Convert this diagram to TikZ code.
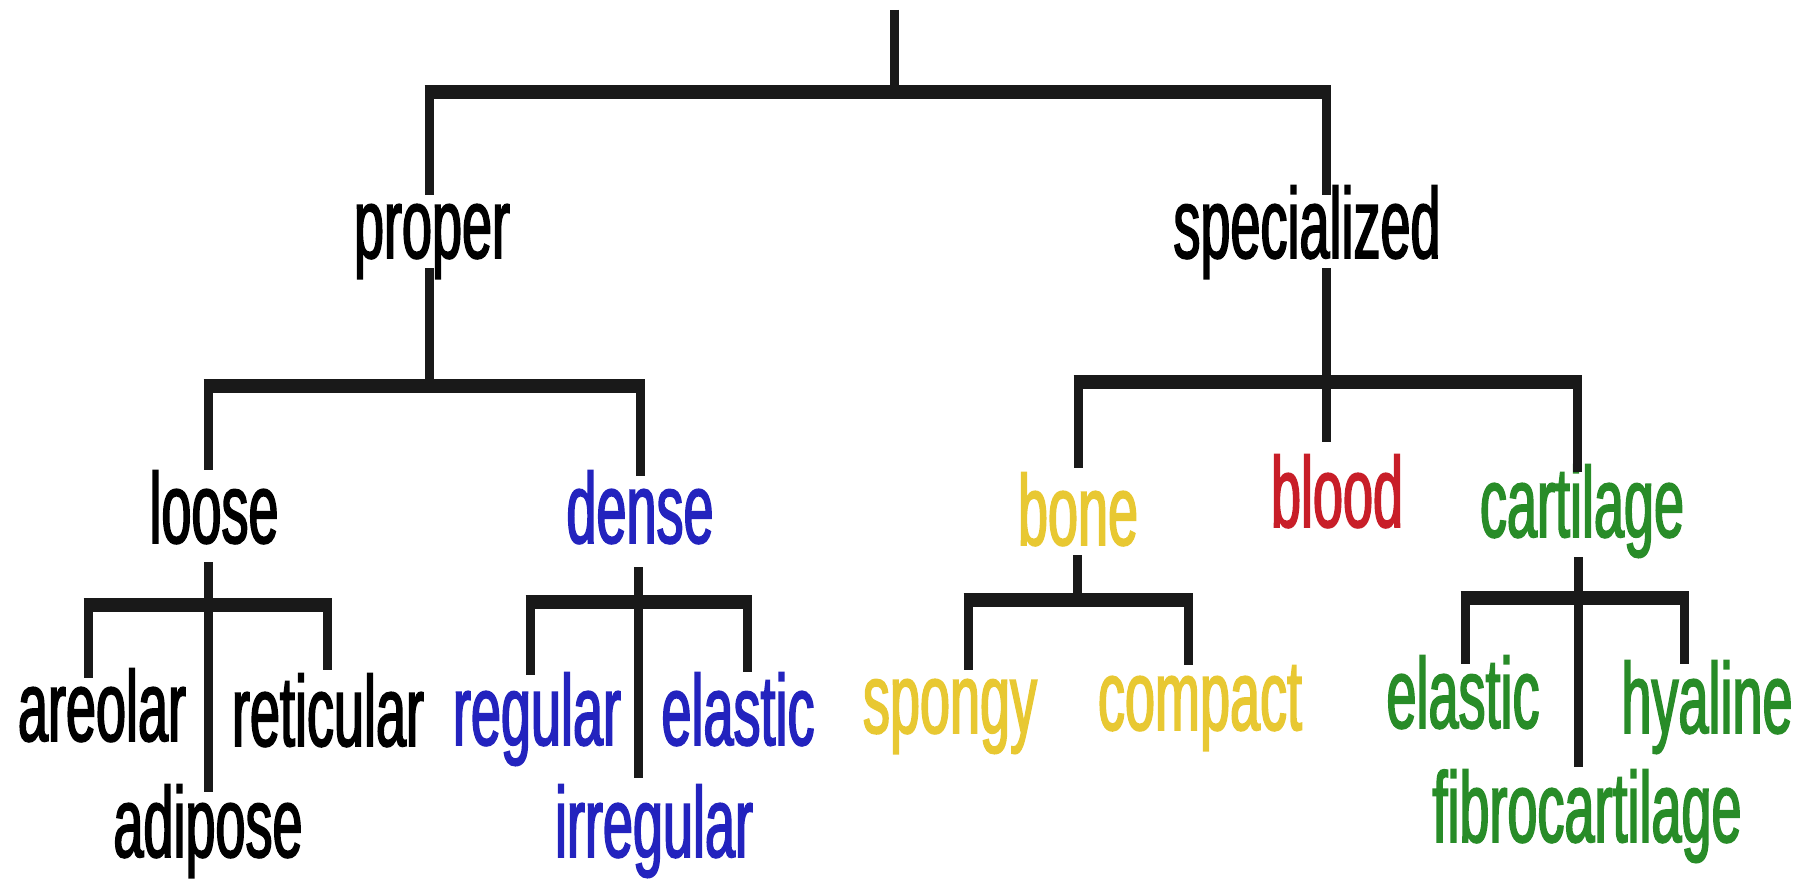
\documentclass[tikz,border=0pt]{standalone}
\usepackage{fontspec}
\setmainfont[FakeStretch=0.54,FakeBold=1.6]{Liberation Sans}
\definecolor{tblue}{RGB}{35,35,190}
\definecolor{tred}{RGB}{200,30,40}
\definecolor{tyellow}{RGB}{232,200,50}
\definecolor{tgreen}{RGB}{40,140,40}
\definecolor{tblack}{RGB}{25,25,25}
\begin{document}
\begin{tikzpicture}[x=1pt,y=-1pt,
  lbl/.style={inner sep=0pt, anchor=base, font=\fontsize{100}{110}\selectfont},
  hbar/.style={draw=tblack, line width=14pt},
  vline/.style={draw=tblack, line width=9pt}]
\useasboundingbox (0,0) rectangle (1808,880);
% level 1
\node[lbl] (proper) at (432,258) {proper};
\node[lbl] (spec) at (1307,258) {specialized};
% level 2
\node[lbl] (loose) at (214,543) {loose};
\node[lbl,text=tblue] (dense) at (640,543) {dense};
\node[lbl,text=tyellow] (bone) at (1078,545) {bone};
\node[lbl,text=tred] (blood) at (1337,527) {blood};
\node[lbl,text=tgreen] (cart) at (1582,537) {cartilage};
% level 3
\node[lbl] (areolar) at (102,741) {areolar};
\node[lbl] (retic) at (328,746) {reticular};
\node[lbl] (adipose) at (208,857) {adipose};
\node[lbl,text=tblue] (regular) at (537,745) {regular};
\node[lbl,text=tblue] (elastic) at (738,745) {elastic};
\node[lbl,text=tblue] (irregular) at (654,857) {irregular};
\node[lbl,text=tyellow] (spongy) at (950,733) {spongy};
\node[lbl,text=tyellow] (compact) at (1200,730) {compact};
\node[lbl,text=tgreen] (celastic) at (1463,728) {elastic};
\node[lbl,text=tgreen] (hyaline) at (1707,733) {hyaline};
\node[lbl,text=tgreen] (fibro) at (1587,842) {fibrocartilage};
% top
\coordinate (top) at (894,10);
\coordinate (tj) at (894,92);
\coordinate (tl) at (429,92);
\coordinate (tr) at (1326,92);
\draw[vline] (top) -- (tj);
\draw[hbar] ([xshift=-4.5pt]tl) -- ([xshift=4.5pt]tr);
\draw[vline] (tl) -- (tl |- 0,195);
\draw[vline] (tr) -- (tr |- 0,195);
% proper
\coordinate (pj) at (429,386);
\coordinate (pl) at (208,386);
\coordinate (pr) at (640,386);
\draw[vline] (pj |- 0,268) -- (pj);
\draw[hbar] ([xshift=-4.5pt]pl) -- ([xshift=4.5pt]pr);
\draw[vline] (pl) -- (pl |- 0,470);
\draw[vline] (pr) -- (pr |- 0,476);
% specialized
\coordinate (sj) at (1326,382);
\coordinate (sl) at (1078,382);
\coordinate (sr) at (1577,382);
\draw[vline] (sj |- 0,268) -- (sj);
\draw[hbar] ([xshift=-4.5pt]sl) -- ([xshift=4.5pt]sr);
\draw[vline] (sl) -- (sl |- 0,468);
\draw[vline] (sj) -- (sj |- 0,442);
\draw[vline] (sr) -- (sr |- 0,472);
% loose
\coordinate (lj) at (208,605);
\coordinate (ll) at (88,605);
\coordinate (lr) at (327,605);
\draw[hbar] ([xshift=-4.5pt]ll) -- ([xshift=4.5pt]lr);
\draw[vline] (lj |- 0,562) -- (lj |- 0,792);
\draw[vline] (ll) -- (ll |- 0,678);
\draw[vline] (lr) -- (lr |- 0,670);
% dense
\coordinate (dj) at (638,602);
\coordinate (dl) at (530,602);
\coordinate (dr) at (747,602);
\draw[hbar] ([xshift=-4.5pt]dl) -- ([xshift=4.5pt]dr);
\draw[vline] (dj |- 0,567) -- (dj |- 0,778);
\draw[vline] (dl) -- (dl |- 0,675);
\draw[vline] (dr) -- (dr |- 0,672);
% bone
\coordinate (bj) at (1077,600);
\coordinate (bl) at (968,600);
\coordinate (br) at (1188,600);
\draw[hbar] ([xshift=-4.5pt]bl) -- ([xshift=4.5pt]br);
\draw[vline] (bj |- 0,555) -- (bj);
\draw[vline] (bl) -- (bl |- 0,670);
\draw[vline] (br) -- (br |- 0,665);
% cartilage
\coordinate (cj) at (1578,598);
\coordinate (cl) at (1465,598);
\coordinate (cr) at (1684,598);
\draw[hbar] ([xshift=-4.5pt]cl) -- ([xshift=4.5pt]cr);
\draw[vline] (cj |- 0,557) -- (cj |- 0,767);
\draw[vline] (cl) -- (cl |- 0,664);
\draw[vline] (cr) -- (cr |- 0,664);
\end{tikzpicture}
\end{document}
